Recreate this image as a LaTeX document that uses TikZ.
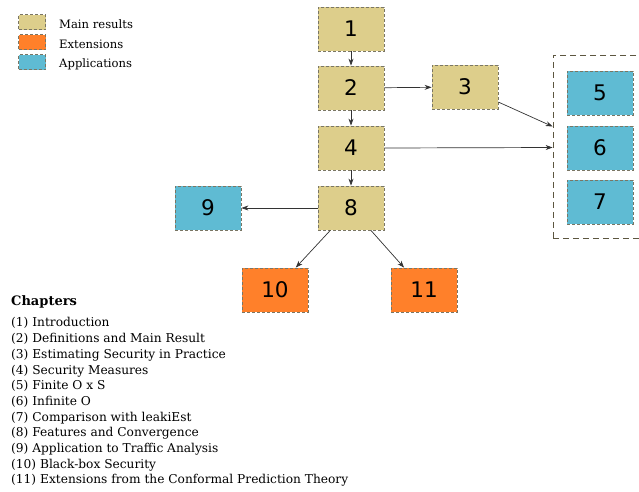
\documentclass[tikz,border=0pt]{standalone}
\usepackage{fontspec}
\setmainfont{DejaVu Serif}
\newfontfamily\numfont{DejaVu Sans}
\usetikzlibrary{arrows.meta}
\definecolor{mainres}{RGB}{221,206,139}
\definecolor{extens}{RGB}{255,128,42}
\definecolor{applic}{RGB}{95,187,211}
\definecolor{rim}{RGB}{122,118,100}
\definecolor{boxrim}{RGB}{92,86,64}
\begin{document}
\begin{tikzpicture}[x=1pt,y=-1pt,
  chap/.style={draw=rim,dashed,dash pattern=on 3pt off 2pt,line width=0.8pt,
    minimum width=66pt,minimum height=44pt,inner sep=0pt,font=\numfont\fontsize{21.5}{22}\selectfont},
  mainbox/.style={chap,fill=mainres},
  extbox/.style={chap,fill=extens},
  appbox/.style={chap,fill=applic},
  swatch/.style={draw=rim,dashed,dash pattern=on 3pt off 2pt,line width=0.8pt,
    minimum width=27pt,minimum height=15pt,inner sep=0pt},
  legtext/.style={anchor=base west,inner sep=0pt,font=\fontsize{11.6}{13}\selectfont},
  link/.style={draw=black!80,line width=0.7pt,-{Stealth[length=7pt,width=5pt]}}]
\useasboundingbox (0,0) rectangle (639,491);

\node[swatch,fill=mainres] (s1) at (32,22) {};
\node[swatch,fill=extens] (s2) at (32,42) {};
\node[swatch,fill=applic] (s3) at (32,62) {};
\node[legtext] (l1) at (59,28) {Main results};
\node[legtext] (l2) at (59,48) {Extensions};
\node[legtext] (l3) at (59,67) {Applications};

\node[draw=boxrim,dashed,dash pattern=on 6pt off 4pt,line width=0.8pt,
  minimum width=100pt,minimum height=183pt,inner sep=0pt] (apps) at (603,146.5) {};

\node[mainbox] (c1) at (351,29) {1};
\node[mainbox] (c2) at (351,88) {2};
\node[mainbox] (c3) at (465,87) {3};
\node[mainbox] (c4) at (351,148) {4};
\node[appbox] (c5) at (600,93) {5};
\node[appbox] (c6) at (600,148) {6};
\node[appbox] (c7) at (600,202) {7};
\node[mainbox] (c8) at (351,208) {8};
\node[appbox] (c9) at (208,208) {9};
\node[extbox] (c10) at (275,290) {10};
\node[extbox] (c11) at (424,290) {11};

\draw[link] (c1) -- (c2);
\draw[link] (c2) -- (c3);
\draw[link] (c2) -- (c4);
\draw[link] (c3) -- ([yshift=20pt]apps.west);
\draw[link] (c4.east) -- ([yshift=-1pt]apps.west);
\draw[link] (c4) -- (c8);
\draw[link] (c8) -- (c9);
\draw[link] (c8) -- (c10);
\draw[link] (c8) -- (c11);

\node[legtext,font=\fontsize{13}{14}\selectfont\bfseries] (head) at (11,305) {Chapters};
\node[anchor=north west,inner sep=0pt,align=left,font=\fontsize{12.2}{15.7}\selectfont] (list) at (11,317.5)
  {(1) Introduction\\
   (2) Definitions and Main Result\\
   (3) Estimating Security in Practice\\
   (4) Security Measures\\
   (5) Finite O x S\\
   (6) Infinite O\\
   (7) Comparison with leakiEst\\
   (8) Features and Convergence\\
   (9) Application to Traffic Analysis\\
   (10) Black-box Security\\
   (11) Extensions from the Conformal Prediction Theory};
\end{tikzpicture}
\end{document}
